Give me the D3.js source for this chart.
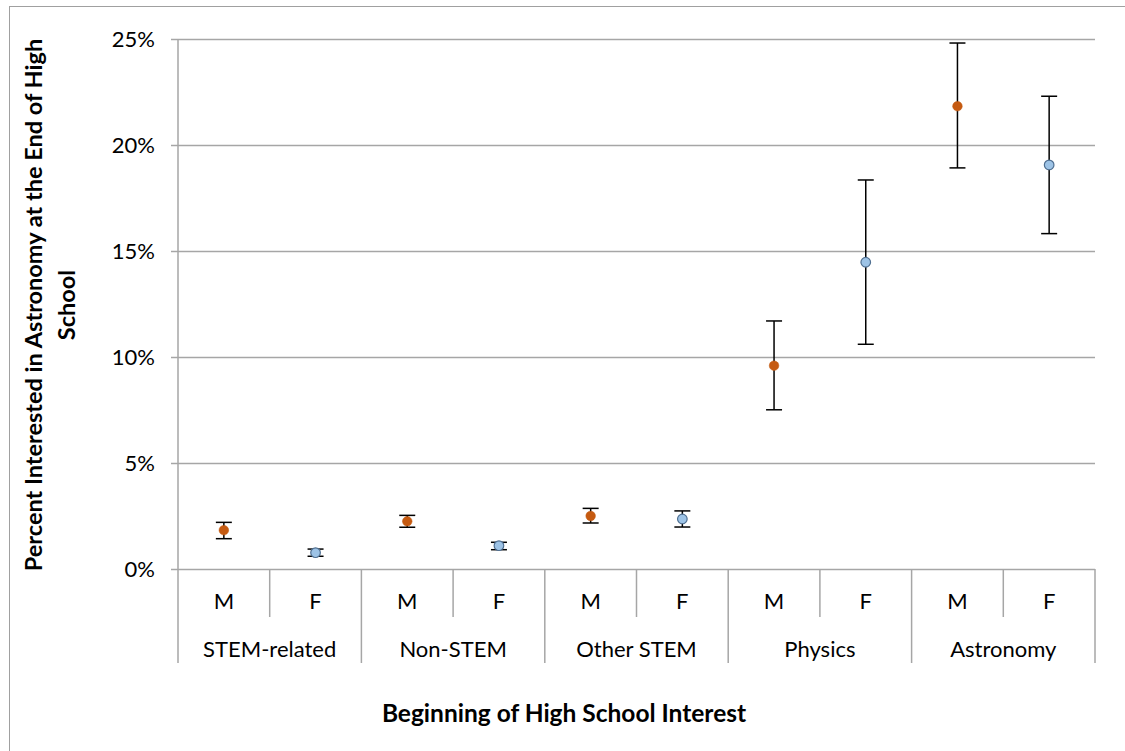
<!DOCTYPE html>
<html><head><meta charset="utf-8">
<script src="https://cdn.jsdelivr.net/npm/d3@7"></script>
<style>body{margin:0;background:#fff;} text{font-family:Lato,"Open Sans",sans-serif;}</style>
</head><body>
<svg id="c" width="1125" height="751"></svg>
<script>
const groups = ["STEM-related","Non-STEM","Other STEM","Physics","Astronomy"];
const genders = ["M","F"];
const values = [1.83, 0.77, 2.25, 1.10, 2.50, 2.36, 9.59, 14.47, 21.83, 19.06];
const upper  = [2.20, 0.94, 2.53, 1.26, 2.86, 2.74, 11.70, 18.35, 24.81, 22.30];
const lower  = [1.43, 0.60, 1.97, 0.91, 2.17, 1.98, 7.51, 10.60, 18.92, 15.82];
const yTicks = [0,5,10,15,20,25];

const svg = d3.select("#c");
const L=178, R=1095, T=39, B=569;
const cats = [];
groups.forEach(g=>genders.forEach(s=>cats.push(g+"|"+s)));
const x = d3.scaleBand().domain(cats).range([L,R]);
const y = d3.scaleLinear().domain([0,25]).range([B,T]);

// outer frame
svg.append("rect").attr("x",9.5).attr("y",6.5).attr("width",1130).attr("height",760)
  .attr("fill","none").attr("stroke","#a0a0a0").attr("stroke-width",1);

// gridlines
const ya = d3.axisLeft(y).tickValues(yTicks).tickSize(-(R-L)).tickFormat(d=>d+"%").tickPadding(23);
const gy = svg.append("g").attr("transform",`translate(${L},0)`).call(ya);
gy.select(".domain").remove();
gy.selectAll(".tick line").attr("stroke","#a6a6a6").attr("stroke-width",1.5).attr("x1",-7);
gy.selectAll(".tick text").attr("font-size",22).attr("fill","#000").attr("font-family","Lato");

// y axis line
svg.append("line").attr("x1",L).attr("x2",L).attr("y1",T).attr("y2",663).attr("stroke","#a6a6a6").attr("stroke-width",1.5);

// category separators
cats.forEach((c,i)=>{
  const xe = x(c)+x.bandwidth();
  const isGroupEnd = (i%2===1);
  svg.append("line").attr("x1",xe).attr("x2",xe).attr("y1",B).attr("y2",isGroupEnd?663:617)
    .attr("stroke","#a6a6a6").attr("stroke-width",1.5);
  svg.append("text").attr("x",x(c)+x.bandwidth()/2).attr("y",609).attr("text-anchor","middle")
    .attr("font-size",22).text(c.split("|")[1]);
});
groups.forEach((g)=>{
  const x0 = x(g+"|M"), x1 = x(g+"|F")+x.bandwidth();
  svg.append("text").attr("x",(x0+x1)/2).attr("y",657).attr("text-anchor","middle")
    .attr("font-size",22).text(g);
});

// error bars
const eg = svg.append("g");
cats.forEach((c,i)=>{
  const cx = x(c)+x.bandwidth()/2;
  eg.append("line").attr("x1",cx).attr("x2",cx).attr("y1",y(upper[i])).attr("y2",y(lower[i])).attr("stroke","#000").attr("stroke-width",1.5);
  [upper[i],lower[i]].forEach(v=>eg.append("line").attr("x1",cx-8).attr("x2",cx+8).attr("y1",y(v)).attr("y2",y(v)).attr("stroke","#000").attr("stroke-width",1.5));
});
// points
cats.forEach((c,i)=>{
  const cx = x(c)+x.bandwidth()/2;
  const m = c.endsWith("|M");
  svg.append("circle").attr("cx",cx).attr("cy",y(values[i])).attr("r",4.8)
    .attr("fill",m?"#c55a11":"#9dc3e6").attr("stroke",m?"#c55a11":"#4f6f91").attr("stroke-width",m?0.5:1.2);
});

// axis titles
svg.append("text").attr("x",564).attr("y",722).attr("text-anchor","middle").attr("font-size",24.5).attr("font-weight","bold").text("Beginning of High School Interest");
const yt = svg.append("text").attr("transform","translate(0,305) rotate(-90)").attr("text-anchor","middle").attr("font-size",23.5).attr("font-weight","bold");
yt.append("tspan").attr("x",0).attr("y",42).text("Percent Interested in Astronomy at the End of High");
yt.append("tspan").attr("x",0).attr("y",75).text("School");
</script>
</body></html>
